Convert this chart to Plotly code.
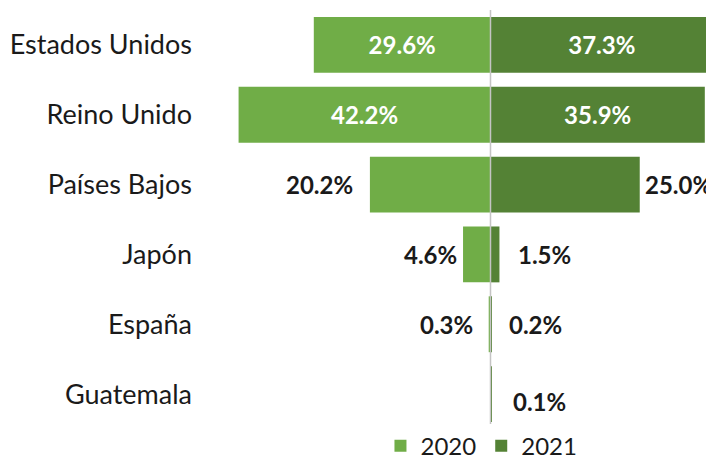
import plotly.graph_objects as go

countries = ["Estados Unidos", "Reino Unido", "Países Bajos", "Japón", "España", "Guatemala"]
v2020 = [29.6, 42.2, 20.2, 4.6, 0.3, None]
v2021 = [37.3, 35.9, 25.0, 1.5, 0.2, 0.1]
series_names = ["2020", "2021"]

C2020 = "#70AD47"
C2021 = "#548235"
FONT = "Lato"
TXT = "#1a1a1a"

inside_idx = {0, 1}

def fmt(v):
    return f"{v:.1f}%"

text2020 = [fmt(v) if (i in inside_idx and v is not None) else "" for i, v in enumerate(v2020)]
text2021 = [fmt(v) if (i in inside_idx and v is not None) else "" for i, v in enumerate(v2021)]

LBL = dict(family=FONT, size=24, weight="bold")

fig = go.Figure()
fig.add_trace(go.Bar(
    y=countries, x=[-v if v is not None else None for v in v2020], orientation="h",
    name=series_names[0], marker=dict(color=C2020, line=dict(width=0)),
    text=text2020, textposition="inside", insidetextanchor="middle",
    textfont=dict(LBL, color="white"),
    hoverinfo="skip",
))
fig.add_trace(go.Bar(
    y=countries, x=v2021, orientation="h",
    name=series_names[1], marker=dict(color=C2021, line=dict(width=0)),
    text=text2021, textposition="inside", insidetextanchor="middle",
    textfont=dict(LBL, color="white"),
    hoverinfo="skip",
))

# outside labels (manual offsets as in the original)
left_shift = {2: 15, 3: 4, 4: 14}
right_shift = {2: 3, 3: 17, 4: 15, 5: 20}
right_yshift = {5: -7}
ann = []
for i, s in left_shift.items():
    ann.append(dict(x=-v2020[i], y=countries[i], xref="x", yref="y", text=fmt(v2020[i]),
                    showarrow=False, xanchor="right", xshift=-s,
                    font=dict(LBL, color=TXT)))
for i, s in right_shift.items():
    ann.append(dict(x=v2021[i], y=countries[i], xref="x", yref="y", text=fmt(v2021[i]),
                    showarrow=False, xanchor="left", xshift=s, yshift=right_yshift.get(i, 0),
                    font=dict(LBL, color=TXT)))

fig.add_shape(type="line", xref="x", yref="paper", x0=0, x1=0, y0=0, y1=1,
              line=dict(color="#C4C4C4", width=1.5), layer="above")

fig.update_layout(
    width=706, height=454,
    margin=dict(l=207, r=0, t=2, b=33, autoexpand=False),
    paper_bgcolor="white", plot_bgcolor="white",
    barmode="overlay", bargap=0.2,
    showlegend=True,
    legend=dict(orientation="h", xref="paper", x=0.534, xanchor="center",
                yref="container", y=0.035, yanchor="middle",
                font=dict(family=FONT, size=24, color=TXT)),
    annotations=ann,
    xaxis=dict(range=[-46.15, 37.44], showgrid=False, zeroline=False,
               showticklabels=False, ticks="", automargin=False),
    yaxis=dict(autorange="reversed", showgrid=False, zeroline=False, ticks="",
               ticklabelstandoff=22, automargin=False,
               tickfont=dict(family=FONT, size=27, color=TXT)),
)

fig.write_html("out.html")
